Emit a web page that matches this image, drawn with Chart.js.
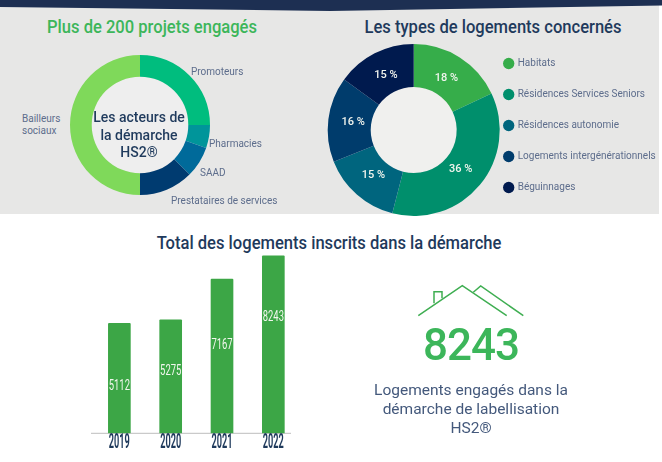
<!DOCTYPE html>
<html lang="fr">
<head>
<meta charset="utf-8">
<script src="https://cdn.jsdelivr.net/npm/chart.js@4"></script>
<style>
html, body { margin: 0; padding: 0; background: #fff; overflow: hidden; }
#page { position: relative; width: 662px; height: 462px; overflow: hidden; font-family: Roboto, sans-serif; }
#grey { position: absolute; left: 0; top: 0; width: 659px; height: 214px; background: #e7e7e6; }
#band { position: absolute; left: 0; top: 0; }
canvas { position: absolute; }
.txt { position: absolute; white-space: nowrap; color: #5d6d8c; font-size: 10px; line-height: 13px; }
.title { font-size: 18px; font-weight: 500; line-height: 22px; color: #1f3a5c; transform: translateX(-50%) scaleX(.92); }
.center { text-align: center; transform: translateX(-50%); }
</style>
</head>
<body>
<div id="page">
  <div id="grey"></div>
  <svg id="band" width="662" height="14"><polygon points="0,0 662,0 662,5.5 330,11 0,7" fill="#1d2f52"/></svg>

  <div class="txt title" style="left:152px;top:16px;color:#3cb65a">Plus de 200 projets engagés</div>
  <div class="txt title" style="left:493px;top:16px">Les types de logements concernés</div>
  <div class="txt title" style="left:329px;top:232px">Total des logements inscrits dans la démarche</div>

  <canvas id="actors" style="left:69.5px;top:55px"></canvas>
  <div class="txt center" style="left:139px;top:109px;font-size:14px;line-height:17.5px;font-weight:500;color:#1f3a5c;z-index:2">Les acteurs de<br>la démarche<br>HS2®</div>
  <div class="txt" style="left:191px;top:65px">Promoteurs</div>
  <div class="txt" style="left:22px;top:113px;line-height:12px">Bailleurs<br>sociaux</div>
  <div class="txt" style="left:209px;top:137px">Pharmacies</div>
  <div class="txt" style="left:200px;top:166px">SAAD</div>
  <div class="txt" style="left:171px;top:194px">Prestataires de services</div>

  <canvas id="types" style="left:320px;top:30px"></canvas>
  <canvas id="total" style="left:80px;top:235px"></canvas>

  <svg style="position:absolute;left:0;top:0" width="662" height="462" fill="none" stroke="#3fae52" stroke-width="1.5">
    <polyline points="418.3,315.7 462.3,285.7 506.7,315.7"/>
    <polyline points="473.3,292.3 480.7,286 523.3,315.7"/>
    <polyline points="434,303.3 434,291.7 442,291.7 442,298.3"/>
  </svg>
  <div class="txt center" style="left:471px;top:319px;font-size:44px;line-height:52px;font-weight:500;color:#3cb65a;letter-spacing:-1px">8243</div>
  <div class="txt center" style="left:471px;top:381px;font-size:15.5px;line-height:19px;color:#44597c">Logements engagés dans la<br>démarche de labellisation<br>HS2®</div>
</div>

<script>
const actorLabels = ['Promoteurs', 'Pharmacies', 'SAAD', 'Prestataires de services', 'Bailleurs sociaux'];
const actorValues = [25, 5.3, 7.2, 12.5, 50];
const actorColors = ['#00bd7e', '#00959a', '#006a9a', '#003b70', '#7fd95a'];

const typeLabels = ['Habitats', 'Résidences Services Seniors', 'Résidences autonomie', 'Logements intergénérationnels', 'Béguinnages'];
const typeValues = [18, 36, 15, 16, 15];
const typeColors = ['#36ad4a', '#008f6c', '#00657e', '#003c6c', '#001a4e'];

const years = ['2019', '2020', '2021', '2022'];
const totals = [5112, 5275, 7167, 8243];
// how far up each bar its value label sits, the source does not center them
const labelHeights = [0.427, 0.549, 0.571, 0.655];

Chart.defaults.animation = false;

// lighter disc inside a doughnut
const holeFill = {
    id: 'holeFill',
    beforeDatasetsDraw(chart, args, opts) {
        const arc = chart.getDatasetMeta(0).data[0];
        const ctx = chart.ctx;
        ctx.save();
        ctx.fillStyle = opts.color;
        ctx.beginPath();
        ctx.arc(arc.x, arc.y, arc.innerRadius, 0, Math.PI * 2);
        ctx.fill();
        ctx.restore();
    }
};

// percent labels a little inside the middle of each slice
const sliceLabels = {
    id: 'sliceLabels',
    afterLayout(chart) {
        // legend padding also sets the row gap, so pull legend and doughnut back together
        const legend = chart.legend;
        legend.left = 163.7;
        legend.right = chart.width;
        // legend rows sit a bit above the doughnut center
        legend.top -= 4.5;
        legend.bottom -= 4.5;
        const area = chart.chartArea;
        area.left = 7.7;
        area.right = 179.7;
        area.top = 14;
        area.bottom = 186;
        area.width = 172;
        area.height = 172;
    },
    afterDatasetsDraw(chart) {
        const ctx = chart.ctx;
        ctx.save();
        ctx.font = '500 11px Roboto';
        ctx.fillStyle = '#f2f5ee';
        ctx.textAlign = 'center';
        ctx.textBaseline = 'middle';
        chart.getDatasetMeta(0).data.forEach((arc, i) => {
            const p = arc.tooltipPosition();
            ctx.fillText(typeValues[i] + ' %', arc.x + (p.x - arc.x) * 0.945, arc.y + (p.y - arc.y) * 0.945);
        });
        ctx.restore();
    }
};

function squeezedText(ctx, text, x, y, sx) {
    ctx.save();
    ctx.translate(x, y);
    ctx.scale(sx, 1);
    ctx.fillText(text, 0, 0);
    ctx.restore();
}

// the source grid is shifted from the bars, and its labels are very condensed
const barDecor = {
    id: 'barDecor',
    beforeDatasetsDraw(chart) {
        const ctx = chart.ctx;
        const y = chart.scales.y;
        ctx.save();
        y.ticks.forEach(t => {
            if (t.value % 2500 !== 0) return;
            ctx.strokeStyle = t.value === 0 ? '#bdbdbd' : '#ececec';
            ctx.lineWidth = 1;
            ctx.beginPath();
            ctx.moveTo(11, y.getPixelForValue(t.value));
            ctx.lineTo(211, y.getPixelForValue(t.value));
            ctx.stroke();
        });
        ctx.restore();
    },
    afterDatasetsDraw(chart) {
        const ctx = chart.ctx;
        const x = chart.scales.x;
        const y = chart.scales.y;
        ctx.save();
        ctx.textAlign = 'center';
        ctx.textBaseline = 'middle';
        chart.getDatasetMeta(0).data.forEach((bar, i) => {
            ctx.font = '14.5px Roboto';
            ctx.fillStyle = '#f2f7ee';
            squeezedText(ctx, String(totals[i]), bar.x, y.getPixelForValue(totals[i] * labelHeights[i]), 0.65);
            ctx.font = '700 19.5px Roboto';
            ctx.fillStyle = '#1f3a5c';
            squeezedText(ctx, years[i], x.getPixelForValue(i), 208, 0.47);
        });
        ctx.restore();
    }
};

const actorsCanvas = document.getElementById('actors');
actorsCanvas.width = 140;
actorsCanvas.height = 140;
new Chart(actorsCanvas.getContext('2d'), {
    type: 'doughnut',
    data: {
        labels: actorLabels,
        datasets: [{
            data: actorValues,
            backgroundColor: actorColors,
            borderWidth: 0
        }]
    },
    options: {
        responsive: false,
        cutout: '69%',
        plugins: {
            legend: { display: false },
            tooltip: { enabled: false },
            holeFill: { color: '#eeeeee' }
        }
    },
    plugins: [holeFill]
});

const typesCanvas = document.getElementById('types');
typesCanvas.width = 342;
typesCanvas.height = 200;
new Chart(typesCanvas.getContext('2d'), {
    type: 'doughnut',
    data: {
        labels: typeLabels,
        datasets: [{
            data: typeValues,
            backgroundColor: typeColors,
            borderWidth: 0
        }]
    },
    options: {
        responsive: false,
        cutout: '50%',
        plugins: {
            legend: {
                position: 'right',
                labels: {
                    usePointStyle: true,
                    pointStyle: 'circle',
                    boxWidth: 8,
                    boxHeight: 8,
                    padding: 21,
                    color: '#5d6d8c',
                    font: { family: 'Roboto', size: 10 }
                }
            },
            tooltip: { enabled: false },
            holeFill: { color: '#f0f0ee' }
        }
    },
    plugins: [holeFill, sliceLabels]
});

const totalCanvas = document.getElementById('total');
totalCanvas.width = 230;
totalCanvas.height = 227;
new Chart(totalCanvas.getContext('2d'), {
    type: 'bar',
    data: {
        labels: years,
        datasets: [{
            data: totals,
            backgroundColor: '#3ca646',
            barThickness: 22,
            borderRadius: 1
        }]
    },
    options: {
        responsive: false,
        layout: { padding: { left: 13.7, right: 11, top: 4.6, bottom: 0 } },
        scales: {
            x: {
                grid: { display: false },
                border: { display: false },
                ticks: { display: false },
                afterFit(scale) { scale.height = 28.7; }
            },
            y: {
                display: false,
                min: 0,
                max: 9000,
                ticks: { stepSize: 2500 }
            }
        },
        plugins: {
            legend: { display: false },
            tooltip: { enabled: false }
        }
    },
    plugins: [barDecor]
});
</script>
</body>
</html>
